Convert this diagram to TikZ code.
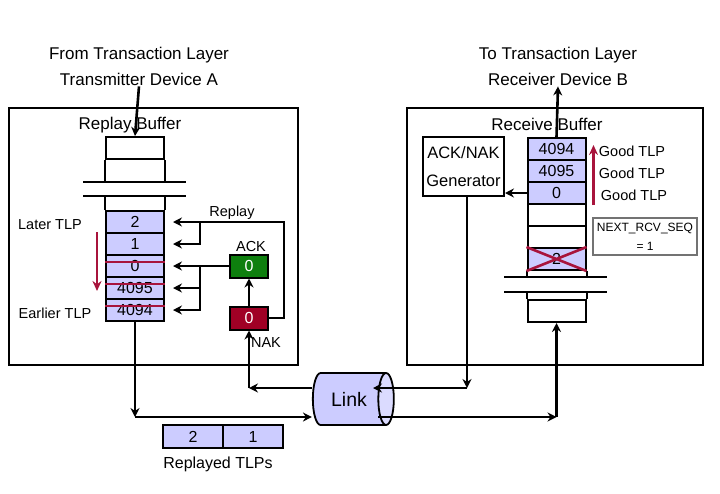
\documentclass[tikz,border=0pt]{standalone}
\usepackage{fontspec}
\setmainfont{Liberation Sans}
\usetikzlibrary{arrows.meta,shapes.geometric,calc}
\definecolor{cellblue}{HTML}{CCCCFF}
\definecolor{ackgreen}{HTML}{0E7F0E}
\definecolor{nakred}{HTML}{A00025}
\definecolor{markred}{HTML}{A8143C}

\begin{document}
\begin{tikzpicture}[x=1pt,y=-1pt,
  panel/.style={draw,line width=2.2pt,inner sep=0pt},
  cell/.style={draw,line width=2pt,fill=cellblue,minimum width=58pt,minimum height=22pt,inner sep=0pt,font=\fontsize{16}{16}\selectfont},
  slot/.style={draw,line width=2pt,minimum width=58pt,minimum height=22pt,inner sep=0pt},
  flag/.style={draw=black,line width=2pt,minimum width=38pt,minimum height=23pt,inner sep=0pt,text=white,font=\fontsize{16}{16}\selectfont},
  lbl/.style={inner sep=1pt,font=\fontsize{14.5}{17}\selectfont},
  big/.style={inner sep=1pt,align=center,font=\fontsize{17}{26}\selectfont},
  wire/.style={line width=2.6pt,line cap=rect},
  ar/.style={-{Stealth[length=9pt,width=9pt]},line width=2.6pt},
  redmark/.style={draw=markred,line width=2.6pt}]

\useasboundingbox (0,0) rectangle (720,493);

% device frames and titles
\node[panel,minimum width=289pt,minimum height=257pt] (devA) at (153.5,236.5) {};
\node[panel,minimum width=296pt,minimum height=257pt] (devB) at (555,236.5) {};
\node[big] (srcA)  at (139,66)  {From Transaction Layer\\Transmitter Device A};
\node[big] (dstB)  at (558,66)  {To Transaction Layer\\Receiver Device B};
\node[big] (rbufA) at (130,125) {Replay Buffer};
\node[big] (rbufB) at (547,124) {Receive Buffer};

% replay buffer
\node[slot] (atop) at (135,148) {};
\draw[line width=2pt] (atop.south west) -- ++(0,23) (atop.south east) -- ++(0,23);
\draw[line width=2pt] (83,182) -- (186,182) (83,196) -- (186,196);
\node[cell] (a2)    at (135,222) {2};
\node[cell] (a1)    at (135,244) {1};
\node[cell] (a0)    at (135,266) {0};
\node[cell] (a4095) at (135,288) {4095};
\node[cell] (a4094) at (135,310) {4094};
\draw[line width=2pt] (a2.north west) -- ++(0,-15) (a2.north east) -- ++(0,-15);
\foreach \c in {a0,a4095,a4094}
  \draw[redmark] ([yshift=-8pt]\c.north west) -- ([yshift=-8pt]\c.north east);
\draw[redmark,-{Stealth[length=10pt,width=9pt]}] ([xshift=-8pt]a1.north west) -- ++(0,59);
\node[lbl] (later)   at (50,225) {Later TLP};
\node[lbl] (earlier) at (55,313) {Earlier TLP};

% ack / nak
\node[flag,fill=ackgreen] (ack) at (249,266) {0};
\node[flag,fill=nakred]   (nak) at (249,318) {0};
\node[lbl] (ackL)    at (251,247) {ACK};
\node[lbl] (nakL)    at (266,343) {NAK};
\node[lbl] (replayL) at (232,213) {Replay};

\coordinate (rpFork)  at (200,222);
\coordinate (ackFork) at (200,266);
\draw[wire] (nak.east) -- ++(15,0) |- (rpFork);
\draw[ar,shorten >=8pt] (rpFork) -- (a2.east);
\draw[wire] (rpFork) -- (rpFork |- a1.east);
\draw[ar,shorten >=8pt] (rpFork |- a1.east) -- (a1.east);
\draw[ar,shorten >=8pt] (ack.west) -- (a0.east);
\draw[wire] (ackFork) -- (ackFork |- a4094.east);
\draw[ar,shorten >=8pt] (ackFork |- a4095.east) -- (a4095.east);
\draw[ar,shorten >=8pt] (ackFork |- a4094.east) -- (a4094.east);
\draw[ar] (nak.north) -- (ack.south);
\draw[ar] (srcA.south) -- (atop.north);

% receive buffer
\node[draw,line width=2pt,minimum width=81pt,minimum height=59pt,align=center,inner sep=0pt,
  font=\fontsize{16.5}{28}\selectfont] (gen) at (463.5,166.5) {ACK/NAK\\Generator};
\node[cell] (b4094) at (556.5,149) {4094};
\node[cell] (b4095) at (556.5,171) {4095};
\node[cell] (b0)    at (556.5,193) {0};
\node[slot] (be1)   at (556.5,215) {};
\node[slot] (be2)   at (556.5,237) {};
\node[cell] (b2)    at (556.5,259) {2};
\draw[line width=2pt] (b2.south west) -- ++(0,7) (b2.south east) -- ++(0,7);
\draw[line width=2pt] (504,277) -- (607,277) (504,292) -- (607,292);
\node[slot] (bbot) at (556.5,311) {};
\draw[line width=2pt] (bbot.north west) -- ++(0,-8) (bbot.north east) -- ++(0,-8);
\draw[redmark] (b2.north west) -- (b2.south east) (b2.south west) -- (b2.north east);
\draw[redmark,-{Stealth[length=10pt,width=9pt]}] ([xshift=7pt]b0.south east) -- ([xshift=7pt,yshift=-8pt]b4094.north east);
\node[lbl] (good1) at (632,151) {Good TLP};
\node[lbl] (good2) at (632,173) {Good TLP};
\node[lbl] (good3) at (634,195) {Good TLP};
\node[draw=black!55,line width=1.2pt,minimum width=104pt,minimum height=37pt,align=center,inner sep=0pt,
  font=\fontsize{12}{19}\selectfont] (nextseq) at (645,236.5) {NEXT\_RCV\_SEQ\\= 1};
\draw[ar] (b0.west) -- (b0.west -| gen.east);
\draw[ar] (b4094.north) -- (dstB.south);

% link
\node[cylinder,draw,line width=1.8pt,minimum height=81pt,minimum width=52pt,aspect=1.1,inner sep=0pt,
  cylinder uses custom fill,cylinder body fill=cellblue,cylinder end fill=cellblue!70,
  font=\fontsize{19.5}{20}\selectfont] (link) at (349,399) {Link};
\coordinate (txTurn)  at (135,417);
\coordinate (rxTurn)  at (556.5,417);
\coordinate (linkOut) at (378,417);
\coordinate (genTurn) at (467,388);
\coordinate (linkIn)  at (373,388);
\coordinate (nakTurn) at (249,388);
\draw[ar] (a4094.south) -- (txTurn);
\draw[ar] (txTurn) -- (txTurn -| link.west);
\draw[ar] (linkOut) -- (rxTurn);
\draw[ar] (rxTurn) -- (bbot.south);
\draw[ar] (gen.south -| genTurn) -- (genTurn);
\draw[ar] (genTurn) -- (linkIn);
\draw[ar] (link.west |- nakTurn) -- (nakTurn);
\draw[ar] (nakTurn) -- (nak.south);

% replayed tlps
\node[cell,minimum width=60pt,minimum height=23pt] (rp2) at (193,436.5) {2};
\node[cell,minimum width=60pt,minimum height=23pt] (rp1) at (253,436.5) {1};
\node[inner sep=1pt,font=\fontsize{16}{16}\selectfont] (rpL) at (218,464) {Replayed TLPs};
\end{tikzpicture}
\end{document}
